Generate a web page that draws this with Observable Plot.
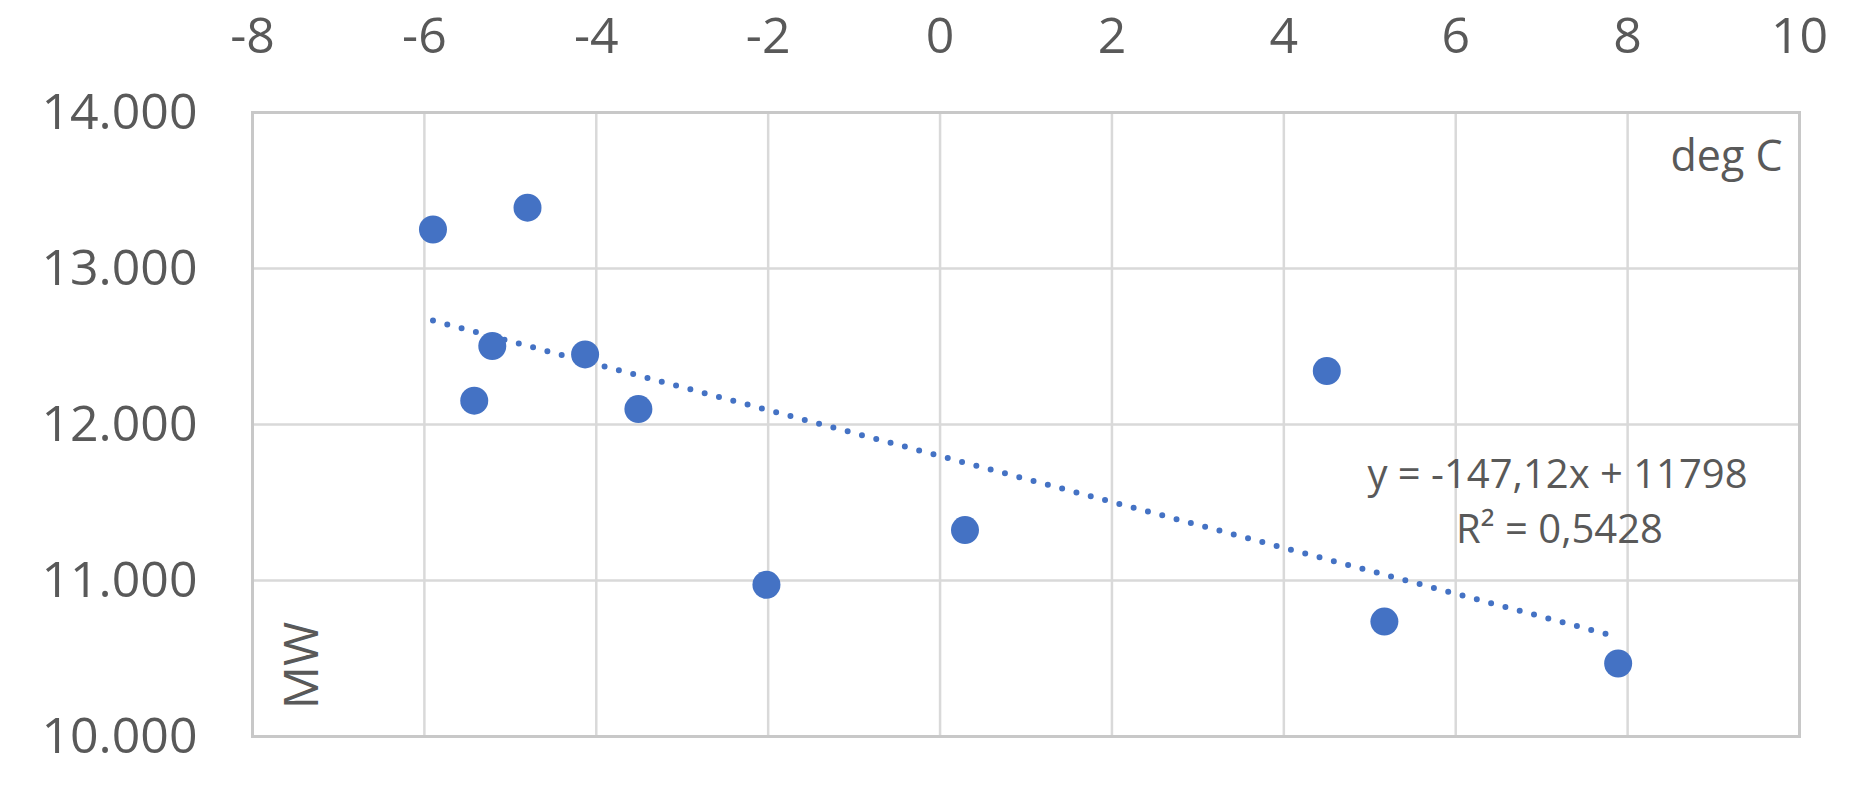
<!DOCTYPE html>
<html>
<head>
<meta charset="utf-8">
<script src="https://cdn.jsdelivr.net/npm/d3@7"></script>
<script src="https://cdn.jsdelivr.net/npm/@observablehq/plot@0.6"></script>
<style>
  html, body { margin: 0; padding: 0; background: #ffffff; }
  #chart { width: 1862px; height: 800px; }
</style>
</head>
<body>
<div id="chart"></div>
<script>
// Data
const temperature = [-5.9, -4.8, -5.21, -5.42, -4.13, -3.51, -2.02, 0.29, 4.5, 5.17, 7.89];
const loadMW      = [13250, 13390, 12503, 12153, 12449, 12099, 10972, 11323, 12343, 10737, 10468];

// Trend line (as stated on the chart)
const trendSlope = -147.12;
const trendIntercept = 11798;
const equationText = "y = -147,12x + 11798";
const r2Text = "R² = 0,5428";

// Axes
const xTicks = [-8, -6, -4, -2, 0, 2, 4, 6, 8, 10];
const yTicks = [10000, 11000, 12000, 13000, 14000];
const xUnitLabel = "deg C";
const yUnitLabel = "MW";

const points = temperature.map((t, i) => ({t, mw: loadMW[i]}));
const [tMin, tMax] = d3.extent(temperature);
const trend = [tMin, tMax].map(t => ({t, mw: trendIntercept + trendSlope * t}));

const locale = d3.formatLocale({decimal: ",", thousands: ".", grouping: [3], currency: ["", ""]});
const fmtY = locale.format(",");

const textColor = "#595959";
const blue = "#4472C4";
const font = "'Open Sans', 'DejaVu Sans', sans-serif";

const chart = Plot.plot({
  width: 1862,
  height: 800,
  marginLeft: 252,
  marginRight: 63,
  marginTop: 112,
  marginBottom: 64,
  style: {fontFamily: font, fontSize: "50px", color: textColor, background: "#ffffff"},
  x: {domain: [-8, 10]},
  y: {domain: [10000, 14000]},
  marks: [
    Plot.gridX(xTicks, {stroke: "#d9d9d9", strokeOpacity: 1, strokeWidth: 2.5}),
    Plot.gridY(yTicks, {stroke: "#d9d9d9", strokeOpacity: 1, strokeWidth: 2.5}),
    Plot.frame({stroke: "#c8c8c8", strokeWidth: 3}),
    Plot.axisX(xTicks, {anchor: "top", label: null, tickSize: 0, tickPadding: 60, tickFormat: d => String(d), fill: textColor}),
    Plot.axisY(yTicks, {anchor: "left", label: null, tickSize: 0, tickPadding: 55, tickFormat: fmtY, fill: textColor}),
    Plot.line(trend, {x: "t", y: "mw", stroke: blue, strokeWidth: 6, strokeLinecap: "round", strokeDasharray: "0 14.8"}),
    Plot.dot(points, {x: "t", y: "mw", r: 14, fill: blue, stroke: "none"}),
    Plot.text([equationText], {frameAnchor: "top-right", dx: -242, dy: 347, textAnchor: "middle", lineAnchor: "top", fontSize: 40, fill: textColor}),
    Plot.text([r2Text], {frameAnchor: "top-right", dx: -240, dy: 402, textAnchor: "middle", lineAnchor: "top", fontSize: 40, fill: textColor}),
    Plot.text([xUnitLabel], {frameAnchor: "top-right", dx: -17, dy: 28, textAnchor: "end", lineAnchor: "top", fontSize: 43, fill: textColor}),
    Plot.text([yUnitLabel], {frameAnchor: "bottom-left", dx: 50, dy: -71, rotate: -90, textAnchor: "middle", lineAnchor: "middle", fontSize: 48, fill: textColor})
  ]
});
document.getElementById("chart").appendChild(chart);
</script>
</body>
</html>
